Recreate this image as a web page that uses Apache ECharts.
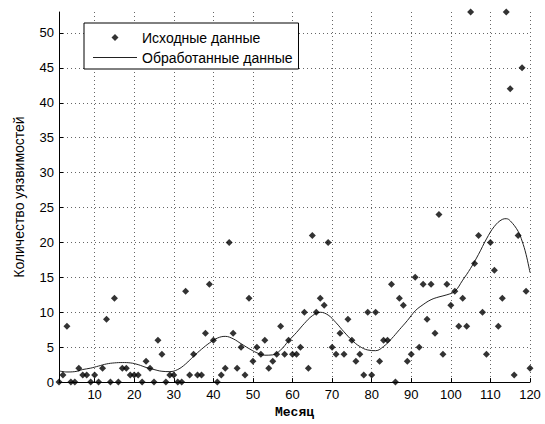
<!DOCTYPE html>
<html><head><meta charset="utf-8">
<script src="https://cdn.jsdelivr.net/npm/echarts@6/dist/echarts.min.js"></script>
<style>html,body{margin:0;padding:0;background:#fff}#c{width:545px;height:424px}</style>
</head><body><div id="c"></div>
<script>
// Monthly raw counts (month 1..120)
const rawCounts = [
  0,1,8,0,0,2,1,1,0,1,
  0,2,9,0,12,0,2,2,1,1,
  1,0,3,2,0,6,4,0,1,1,
  0,0,13,1,4,1,1,7,14,6,
  0,1,2,20,7,2,5,1,12,3,
  5,4,6,2,3,4,8,4,6,4,
  4,5,10,2,21,10,12,11,20,5,
  4,7,4,9,6,3,4,1,10,1,
  10,3,6,6,14,0,12,11,3,4,
  15,5,14,9,14,7,24,4,14,11,
  13,8,12,8,53,17,21,10,4,20,
  16,8,12,53,42,1,21,45,13,2
];
// Smoothed curve
const curveMonths = [1,3,5,7,9,11,13,15,17,19,21,23,25,27,29,31,33,35,37,39,41,43,45,47,49,51,53,55,57,59,61,63,65,67,69,71,73,75,77,79,81,83,85,87,89,91,93,95,97,99,101,103,105,107,109,111,113,114,115,117,118,119,120];
const curveValues = [1.6,1.45,1.5,1.8,2.0,2.3,2.6,2.75,2.8,2.75,2.5,2.1,1.8,1.55,1.5,1.8,2.6,3.7,4.7,5.6,6.3,6.55,6.2,5.5,4.8,4.2,3.85,3.9,4.6,5.9,7.1,8.4,9.5,10.0,9.6,8.5,7.2,6.0,5.1,4.6,4.5,5.1,6.2,7.5,8.8,10.2,11.1,11.8,12.2,12.5,13.0,14.6,16.3,18.3,20.5,22.3,23.3,23.4,23.1,21.6,20.2,18.3,15.7];
const xTicks = [10,20,30,40,50,60,70,80,90,100,110,120];
const yTicks = [0,5,10,15,20,25,30,35,40,45,50];
const seriesNames = ['Исходные данные','Обработанные данные'];
const xTitle = 'Месяц';
const yTitle = 'Количество уязвимостей';

const rawData = rawCounts.map((v, i) => [i + 1, v]);
const curveData = curveMonths.map((m, i) => [m, curveValues[i]]);

const chart = echarts.init(document.getElementById('c'), null, {renderer: 'svg'});
const gridLine = {show: true, lineStyle: {color: '#666', width: 1, type: [1, 3]}};
chart.setOption({
  backgroundColor: '#fff',
  animation: false,
  grid: {left: 59, right: 15, top: 12, bottom: 41, containLabel: false},
  legend: {
    orient: 'vertical', left: 84, top: 23,
    padding: [7, 6, 4, 9], itemGap: 5, itemWidth: 44, itemHeight: 7,
    symbolKeepAspect: true,
    borderColor: '#000', borderWidth: 1, backgroundColor: '#fff',
    textStyle: {fontFamily: 'Liberation Sans, Arial', fontSize: 14, color: '#000', lineHeight: 15},
    data: [
      {name: seriesNames[0], icon: 'path://M0,-1L1,0L0,1L-1,0Z', itemStyle: {color: '#000'}},
      {name: seriesNames[1], icon: 'path://M0,0L44,0L44,1L0,1Z', itemStyle: {color: '#222'}}
    ],
    z: 10
  },
  xAxis: {
    type: 'value', min: 1, max: 120,
    name: xTitle, nameLocation: 'middle', nameGap: 23,
    nameTextStyle: {fontFamily: 'Liberation Mono, monospace', fontSize: 13, color: '#000', fontWeight: 'bold'},
    axisLine: {show: true, onZero: false, lineStyle: {color: '#000', width: 1}},
    axisTick: {show: true, inside: true, length: 4, lineStyle: {color: '#000'}, customValues: xTicks},
    axisLabel: {color: '#000', fontFamily: 'Liberation Sans, Arial', fontSize: 13, margin: 6, customValues: xTicks},
    splitLine: gridLine
  },
  yAxis: {
    type: 'value', min: 0, max: 53,
    name: yTitle, nameLocation: 'middle', nameGap: 33,
    nameTextStyle: {fontFamily: 'Liberation Sans, Arial', fontSize: 14, color: '#000'},
    axisLine: {show: true, onZero: false, lineStyle: {color: '#000', width: 1}},
    axisTick: {show: true, inside: true, length: 4, lineStyle: {color: '#000'}, customValues: yTicks},
    axisLabel: {color: '#000', fontFamily: 'Liberation Sans, Arial', fontSize: 13, margin: 5, customValues: yTicks},
    splitLine: gridLine
  },
  series: [
    {
      name: seriesNames[0], type: 'scatter', data: rawData,
      symbol: 'diamond', symbolSize: 7, clip: false,
      itemStyle: {color: '#000'}, z: 3
    },
    {
      name: seriesNames[1], type: 'line', data: curveData,
      smooth: 0.4, symbol: 'none', showSymbol: false,
      lineStyle: {color: '#222', width: 1}, itemStyle: {color: '#222'}, z: 2
    }
  ]
});
</script>
</body></html>
